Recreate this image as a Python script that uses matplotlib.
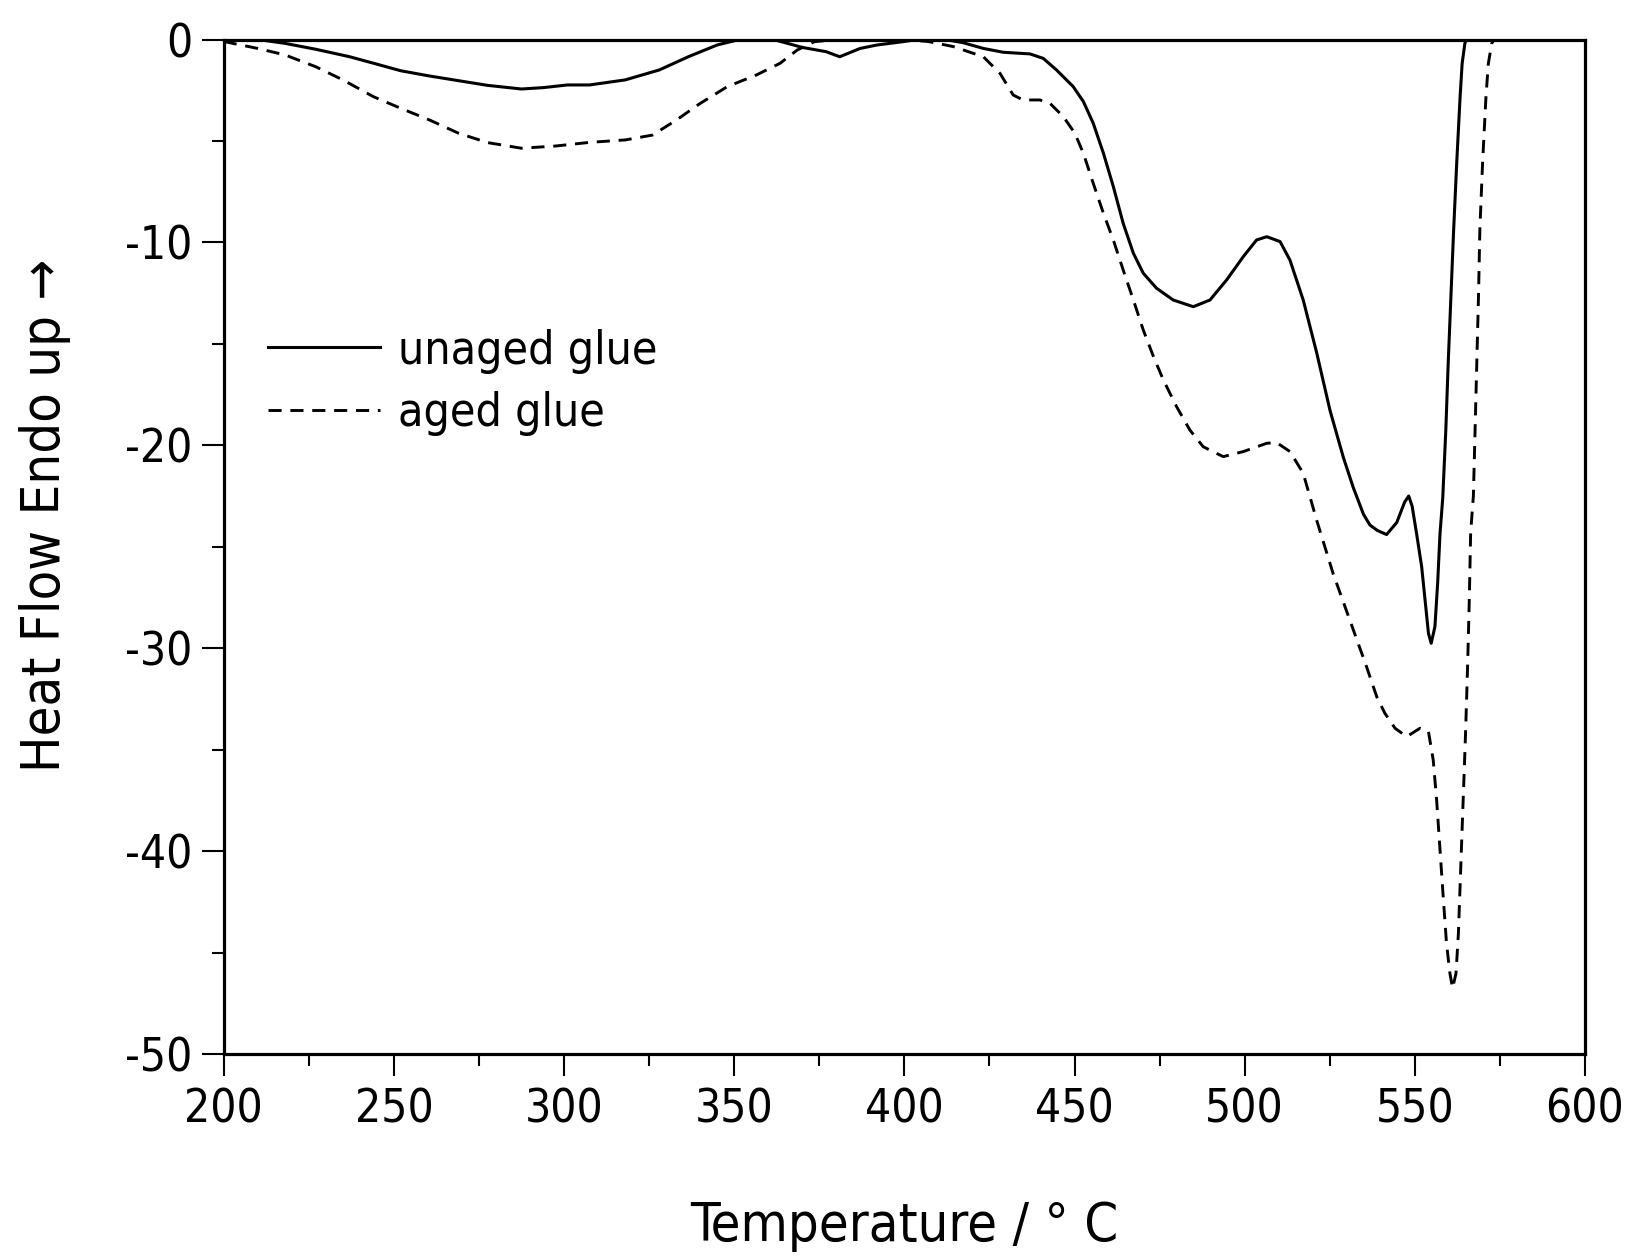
import matplotlib
matplotlib.use("Agg")
import matplotlib.pyplot as plt
from matplotlib.ticker import MultipleLocator

plt.rcParams['font.family'] = ['DejaVu Sans']
plt.rcParams['font.stretch'] = 'condensed'
plt.rcParams['axes.unicode_minus'] = False

# DSC traces: temperature (deg C) and heat flow
temp_unaged = [200, 210, 218, 227, 237, 244, 252, 260.5, 269, 277.5, 287.5, 294, 301,
               307.5, 318, 328, 336.5, 345, 351.5, 361.5, 370, 377, 381, 387, 392, 399,
               404, 412, 417.3, 423.2, 429.1, 436.9, 440.8, 444.7, 449.6, 452.6, 455.5,
               458.5, 461.4, 464.3, 467.3, 470.2, 474.1, 479.0, 484.9, 489.8, 494.7,
               499.6, 503.5, 506.5, 510.4, 513.3, 517.2, 521.1, 525.1, 529.0, 531.9,
               534.9, 536.8, 539, 541.7, 544.7, 547, 548.2, 549.2, 550.5, 552.0, 553.0,
               554.0, 554.8, 555.9, 556.7, 557.4, 558.2, 559.1, 559.8, 560.6, 561.4, 562.3,
               563.3, 563.9, 564.7, 565.2]
heat_unaged = [0, 0, -0.19, -0.48, -0.85, -1.17, -1.54, -1.80, -2.03, -2.26, -2.44, -2.37,
               -2.24, -2.24, -1.99, -1.50, -0.85, -0.27, 0, 0, -0.39, -0.60, -0.85, -0.44,
               -0.27, -0.12, 0, 0, -0.16, -0.44, -0.63, -0.71, -0.93, -1.50, -2.32, -3.06,
               -4.13, -5.61, -7.25, -9.06, -10.54, -11.52, -12.26, -12.84, -13.17, -12.84,
               -11.85, -10.70, -9.88, -9.72, -9.96, -10.87, -12.84, -15.4, -18.3, -20.6,
               -22.08, -23.4, -23.93, -24.2, -24.4, -23.8, -22.8, -22.5, -23.0, -24.34,
               -25.98, -27.62, -29.27, -29.76, -28.94, -26.8, -24.34, -22.6, -19.25, -15.96,
               -12.67, -9.39, -6.10, -2.82, -1.18, -0.19, 0]

temp_aged = [200, 210, 218, 227, 235, 244, 252, 260.5, 269, 277.5, 287.5, 297.5, 307.5,
             318, 326, 333, 340, 348, 356.5, 363.5, 368.5, 373.5, 380, 400, 407, 414.4,
             423.2, 428.1, 432.0, 434.9, 439.8, 442.8, 446.7, 450.1, 452.6, 455.5, 458.5,
             461.4, 464.3, 467.3, 470.2, 473.2, 476.1, 480.0, 483.9, 487.8, 493.7, 499.6,
             506.5, 509.4, 513.3, 517.2, 521.2, 526, 530.9, 535.8, 538.8, 541.2, 544.2,
             547.6, 551.5, 554.0, 555.4, 556.4, 557.4, 558.4, 559.3, 560.3, 561.1, 562.1,
             562.8, 563.5, 564.2, 564.9, 565.5, 566.0, 566.4, 567.2, 567.7, 568.2, 568.7,
             569.1, 569.9, 570.9, 571.6, 572.6, 573.3]
heat_aged = [-0.1, -0.44, -0.76, -1.34, -1.99, -2.82, -3.39, -3.97, -4.62, -5.08, -5.36,
             -5.25, -5.07, -4.95, -4.71, -3.97, -3.15, -2.32, -1.75, -1.17, -0.52, -0.11,
             0, 0, -0.1, -0.35, -0.85, -1.67, -2.74, -2.98, -2.98, -3.15, -3.80, -4.62,
             -5.61, -7.09, -8.57, -9.88, -11.36, -12.84, -14.32, -15.63, -16.78, -18.10,
             -19.25, -20.07, -20.56, -20.31, -19.9, -19.87, -20.31, -21.38, -23.72, -26.33,
             -28.62, -30.91, -32.39, -33.21, -33.95, -34.36, -33.95, -34.11, -35.51,
             -37.48, -39.95, -42.41, -44.54, -46.02, -46.76, -46.02, -44.05, -40.77,
             -37.48, -34.2, -30.91, -27.62, -24.3, -22.5, -19.25, -15.96, -12.67, -9.39,
             -6.10, -2.82, -1.18, -0.19, 0]

series_labels = ["unaged glue", "aged glue"]

fig = plt.figure(figsize=(16.32, 12.58), dpi=100)
ax = fig.add_axes([0.1371, 0.1622, 0.8341, 0.8064])

ax.plot(temp_unaged, heat_unaged, color='black', lw=2.2, label=series_labels[0])
ax.plot(temp_aged, heat_aged, color='black', lw=2.1, dashes=(4.5, 3), label=series_labels[1])

ax.set_xlim(200, 600)
ax.set_ylim(-50, 0)
ax.xaxis.set_major_locator(MultipleLocator(50))
ax.xaxis.set_minor_locator(MultipleLocator(25))
ax.yaxis.set_major_locator(MultipleLocator(10))
ax.yaxis.set_minor_locator(MultipleLocator(5))

for s in ax.spines.values():
    s.set_linewidth(2.3)
ax.tick_params(which='both', direction='out', width=1.5, top=False, right=False)
ax.tick_params(which='major', length=15.5)
ax.tick_params(which='minor', length=8.5)
ax.tick_params(axis='x', which='major', labelsize=33, pad=9)
ax.tick_params(axis='y', which='major', labelsize=33, pad=7)

ax.set_xlabel("Temperature / ° C", fontsize=39)
ax.xaxis.label.set_va('center')
ax.xaxis.set_label_coords(0.5, -0.1695)
ax.set_ylabel("Heat Flow Endo up →", fontsize=39)
ax.yaxis.label.set_va('center')
ax.yaxis.set_label_coords(-0.1315, 0.531)

ax.legend(loc='upper left', bbox_to_anchor=(0.0325, 0.715), frameon=False, fontsize=33.3,
          handlelength=2.42, handletextpad=0.4, labelspacing=0.37, borderaxespad=0,
          borderpad=0)

fig.savefig("out.png", dpi=100)
